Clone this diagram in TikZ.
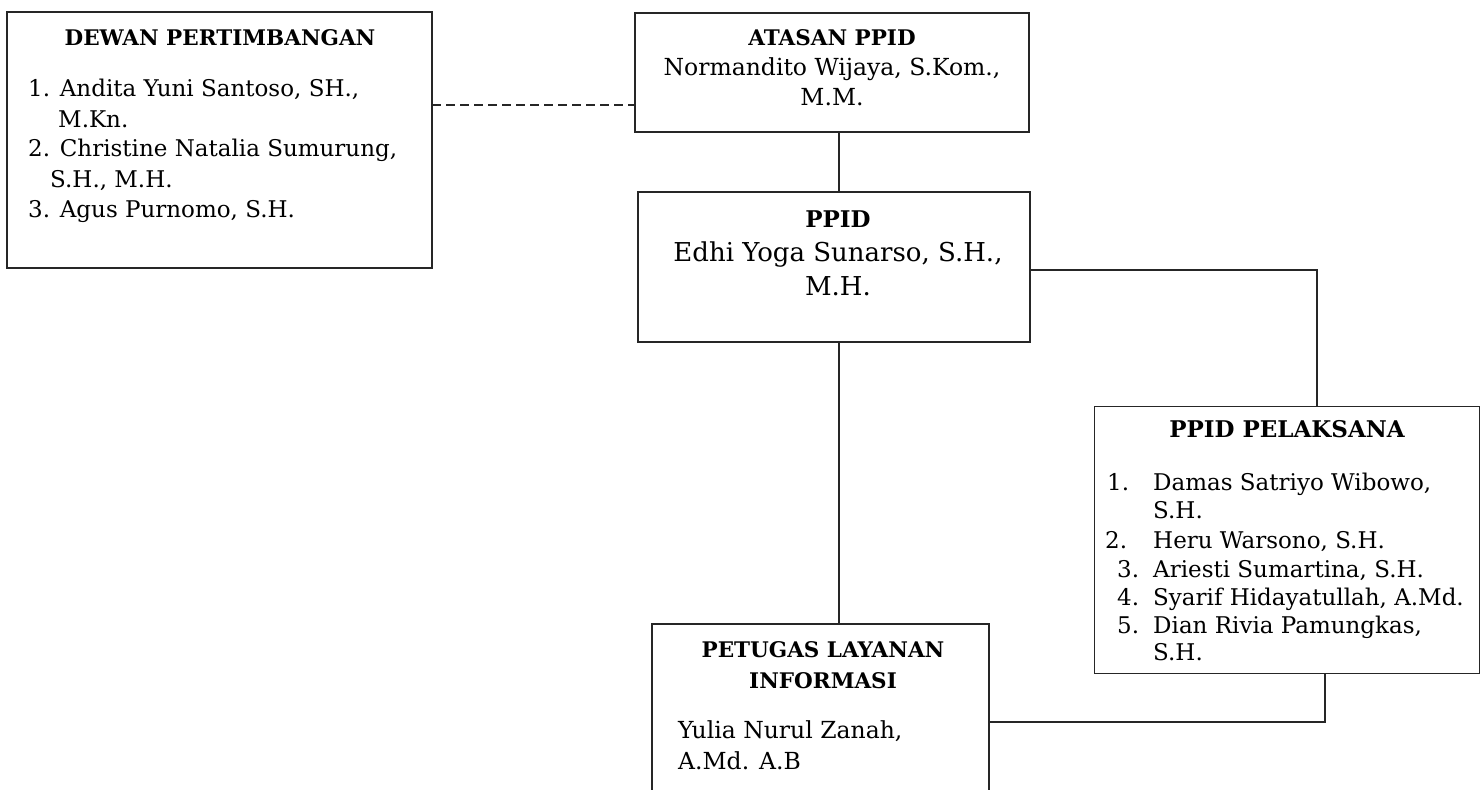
\documentclass[tikz,border=0pt]{standalone}
\usepackage{fontspec}
\setmainfont{DejaVu Serif}
\begin{document}
\begin{tikzpicture}[x=1pt,y=-1pt,
  box/.style={draw=black!85, line width=1.6pt, inner sep=0pt, outer sep=0pt},
  conn/.style={draw=black!85, line width=1.6pt},
  body/.style={inner sep=0pt, font=\fontsize{23}{28}\selectfont},
  bodyA/.style={inner sep=0pt, font=\fontsize{23.5}{28}\selectfont},
  bodyL/.style={inner sep=0pt, font=\fontsize{26}{30}\selectfont},
  ttl/.style={inner sep=0pt, font=\bfseries\fontsize{21.5}{26}\selectfont},
  ]
\useasboundingbox (0,0) rectangle (1481,790);
\clip (0,0) rectangle (1481,790);
% boxes
\node[box, minimum width=425pt, minimum height=256pt] (dewan) at (219.5,140) {};
\node[box, minimum width=394pt, minimum height=119pt] (atasan) at (832,72.5) {};
\node[box, minimum width=392pt, minimum height=150pt] (ppid) at (834,267) {};
\node[box, minimum width=385pt, minimum height=267pt] (pel) at (1287,540) {};
\node[box, minimum width=337pt, minimum height=190pt] (pet) at (820.5,719) {};
% Dewan texts
\node[ttl, anchor=base] (dT) at (220,45) {DEWAN PERTIMBANGAN};
\node[body, anchor=base west] (d1) at (28,96) {1. Andita Yuni Santoso, SH.,};
\node[body, anchor=base west] (d1b) at (58,127) {M.Kn.};
\node[body, anchor=base west] (d2) at (28,156) {2. Christine Natalia Sumurung,};
\node[body, anchor=base west] (d2b) at (50,187) {S.H., M.H.};
\node[body, anchor=base west] (d3) at (28,217) {3. Agus Purnomo, S.H.};
% Atasan texts
\node[ttl, anchor=base] (aT) at (832,45) {ATASAN PPID};
\node[bodyA, anchor=base] (a1) at (832,75) {Normandito Wijaya, S.Kom.,};
\node[bodyA, anchor=base] (a2) at (832,105) {M.M.};
% PPID texts
\node[ttl, font=\bfseries\fontsize{23}{28}\selectfont, anchor=base] (pT) at (838,227) {PPID};
\node[bodyL, anchor=base] (p1) at (838,261) {Edhi Yoga Sunarso, S.H.,};
\node[bodyL, anchor=base] (p2) at (838,295) {M.H.};
% Pelaksana texts
\node[ttl, font=\bfseries\fontsize{23}{28}\selectfont, anchor=base] (lT) at (1287,437) {PPID PELAKSANA};
\node[body, anchor=base west] (l1n) at (1107,490) {1.};
\node[body, anchor=base west] (l1) at (1153,490) {Damas Satriyo Wibowo,};
\node[body, anchor=base west] (l1b) at (1153,518) {S.H.};
\node[body, anchor=base west] (l2n) at (1105,548) {2.};
\node[body, anchor=base west] (l2) at (1153,548) {Heru Warsono, S.H.};
\node[body, anchor=base west] (l3n) at (1117,577) {3.};
\node[body, anchor=base west] (l3) at (1153,577) {Ariesti Sumartina, S.H.};
\node[body, anchor=base west] (l4n) at (1117,605) {4.};
\node[body, anchor=base west] (l4) at (1153,605) {Syarif Hidayatullah, A.Md.};
\node[body, anchor=base west] (l5n) at (1117,633) {5.};
\node[body, anchor=base west] (l5) at (1153,633) {Dian Rivia Pamungkas,};
\node[body, anchor=base west] (l5b) at (1153,660) {S.H.};
% Petugas texts
\node[ttl, anchor=base] (tT1) at (823,657) {PETUGAS LAYANAN};
\node[ttl, anchor=base] (tT2) at (823,688) {INFORMASI};
\node[bodyA, anchor=base west] (t1) at (678,738) {Yulia Nurul Zanah,};
\node[bodyA, anchor=base west] (t2) at (678,769) {A.Md. A.B};
% connectors
\coordinate (cx) at (839,0);
\draw[conn] (atasan.south -| cx) -- (ppid.north -| cx);
\draw[conn] (ppid.south -| cx) -- (pet.north -| cx);
\coordinate (r1) at (1317,270);
\draw[conn] (ppid.east |- r1) -| (pel.north -| r1);
\coordinate (r2) at (1325,722);
\draw[conn] (pel.south -| r2) |- (pet.east |- r2);
\coordinate (dl) at (0,105);
\draw[conn, line width=1.4pt, dash pattern=on 9pt off 5pt] (dewan.east |- dl) -- (atasan.west |- dl);
\end{tikzpicture}
\end{document}
